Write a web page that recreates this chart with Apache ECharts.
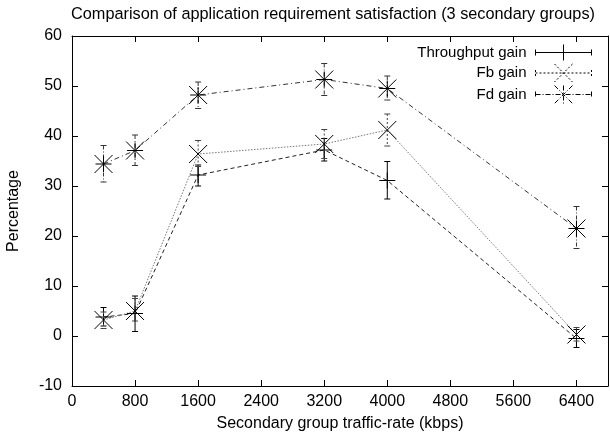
<!DOCTYPE html>
<html>
<head>
    <meta charset="utf-8" />
    <title></title>
    <script type="text/javascript" src="https://cdn.jsdelivr.net/npm/echarts@6/dist/echarts.min.js"></script>
    <style>
        html, body { margin: 0; padding: 0; background: #fff; }
        #con1 { width: 610px; height: 439px; }
    </style>
</head>
<body>
    <div id="con1"></div>
    <script type="text/javascript">
        // traffic rate (kbps)
        var rates = [400, 800, 1600, 3200, 4000, 6400];
        var xTicks = [0, 800, 1600, 2400, 3200, 4000, 4800, 5600, 6400];
        var yTicks = [-10, 0, 10, 20, 30, 40, 50, 60];

        var thrMean = [3.8, 4.5, 32.2, 37.2, 31.1, -0.5];
        var thrLow = [2.0, 0.9, 30.0, 35.0, 27.4, -2.3];
        var thrHigh = [5.7, 8.0, 34.2, 39.5, 34.9, 1.3];

        var fbMean = [3.2, 5.0, 36.4, 38.4, 41.2, 0.3];
        var fbLow = [1.5, 3.0, 33.9, 35.5, 38.0, -1.0];
        var fbHigh = [4.8, 7.5, 39.1, 41.3, 44.4, 1.7];

        var fdMean = [34.4, 37.1, 48.2, 51.3, 49.5, 21.5];
        var fdLow = [30.8, 34.1, 45.5, 48.1, 47.2, 17.5];
        var fdHigh = [38.1, 40.2, 50.8, 54.5, 52.0, 25.9];

        var FONT = 'Liberation Sans, Arial, Helvetica, sans-serif';

        function pairs(m) {
            var arr = [];
            for (var i = 0; i < rates.length; i++) arr.push([rates[i], m[i]]);
            return arr;
        }
        function triples(m, lo, hi) {
            var arr = [];
            for (var i = 0; i < rates.length; i++) arr.push([rates[i], m[i], lo[i], hi[i]]);
            return arr;
        }

        // error bar + marker drawn per point
        function makeRender(marker, barColor, barDash) {
            return function (params, api) {
                var c = api.coord([api.value(0), api.value(1)]);
                var lo = api.coord([api.value(0), api.value(2)]);
                var hi = api.coord([api.value(0), api.value(3)]);
                var cap = 3, r = 8;
                var bar = { stroke: barColor, lineWidth: 1, lineDash: barDash };
                var mk = { stroke: '#000', lineWidth: 1 };
                var ch = [
                    { type: 'line', shape: { x1: c[0], y1: hi[1], x2: c[0], y2: lo[1] }, style: bar },
                    { type: 'line', shape: { x1: c[0] - cap, y1: hi[1], x2: c[0] + cap, y2: hi[1] }, style: { stroke: barColor, lineWidth: 1 } },
                    { type: 'line', shape: { x1: c[0] - cap, y1: lo[1], x2: c[0] + cap, y2: lo[1] }, style: { stroke: barColor, lineWidth: 1 } }
                ];
                if (marker === 'plus' || marker === 'star') {
                    ch.push({ type: 'line', shape: { x1: c[0] - r, y1: c[1], x2: c[0] + r, y2: c[1] }, style: mk });
                    ch.push({ type: 'line', shape: { x1: c[0], y1: c[1] - r, x2: c[0], y2: c[1] + r }, style: mk });
                }
                if (marker === 'cross' || marker === 'star') {
                    var d = r + 1;
                    ch.push({ type: 'line', shape: { x1: c[0] - d, y1: c[1] - d, x2: c[0] + d, y2: c[1] + d }, style: mk });
                    ch.push({ type: 'line', shape: { x1: c[0] - d, y1: c[1] + d, x2: c[0] + d, y2: c[1] - d }, style: mk });
                }
                return { type: 'group', children: ch };
            };
        }

        var iconThr = 'path://M0,9L56,9M0,6L0,12M56,6L56,12M28,1L28,17M20,9L36,9';
        var iconFb = 'path://M0,9L56,9M0,6L0,12M56,6L56,12M19,0L37,18M37,0L19,18';
        var iconFd = 'path://M0,9L56,9M0,6L0,12M56,6L56,12M19,0L37,18M37,0L19,18M28,0L28,18';

        var axisCommon = {
            type: 'value',
            axisLine: { show: true, onZero: false, lineStyle: { color: '#000', width: 1 } },
            axisTick: { show: true, inside: true, length: 6, lineStyle: { color: '#000' } },
            splitLine: { show: false }
        };

        var myChart1 = echarts.init(document.getElementById('con1'));
        var option1 = {
            backgroundColor: '#fff',
            animation: false,
            textStyle: { fontFamily: FONT },
            title: {
                text: 'Comparison of application requirement satisfaction (3 secondary groups)',
                left: 66,
                top: 2,
                textStyle: { fontSize: 16.3, fontWeight: 'normal', color: '#000', fontFamily: FONT }
            },
            legend: {
                orient: 'vertical',
                right: 11,
                top: 37,
                align: 'right',
                itemWidth: 56,
                itemHeight: 18,
                itemGap: -1.5,
                selectedMode: false,
                textStyle: { fontSize: 15, color: '#000', fontFamily: FONT, width: 124, height: 18, lineHeight: 18, align: 'right', padding: [0, 4, 0, 0] },
                data: [
                    { name: 'Throughput gain', icon: iconThr, itemStyle: { color: 'none', borderColor: '#000', borderWidth: 1 } },
                    { name: 'Fb gain', icon: iconFb, itemStyle: { color: 'none', borderColor: '#000', borderWidth: 1, borderType: [2, 2] } },
                    { name: 'Fd gain', icon: iconFd, itemStyle: { color: 'none', borderColor: '#000', borderWidth: 1, borderType: [5, 2, 1, 2] } }
                ]
            },
            grid: { left: 72, right: 2, top: 36, bottom: 53, outerBoundsMode: 'none' },
            xAxis: [
                Object.assign({}, axisCommon, {
                    min: 0, max: 6800, interval: 800,
                    name: 'Secondary group traffic-rate (kbps)',
                    nameLocation: 'middle',
                    nameGap: 30,
                    nameTextStyle: { fontSize: 16, color: '#000', fontFamily: FONT },
                    axisLabel: {
                        fontSize: 16, color: '#000', margin: 8, fontFamily: FONT,
                        formatter: function (v) { return xTicks.indexOf(v) >= 0 ? String(v) : ''; }
                    }
                }),
                Object.assign({}, axisCommon, {
                    position: 'top', min: 0, max: 6800, interval: 800,
                    axisLabel: { show: false }
                })
            ],
            yAxis: [
                Object.assign({}, axisCommon, {
                    min: -10, max: 60, interval: 10,
                    name: 'Percentage',
                    nameLocation: 'middle',
                    nameGap: 50,
                    nameTextStyle: { fontSize: 16, color: '#000', fontFamily: FONT },
                    axisLabel: {
                        fontSize: 16, color: '#000', margin: 10, fontFamily: FONT,
                        formatter: function (v) { return yTicks.indexOf(v) >= 0 ? String(v) : ''; }
                    }
                }),
                Object.assign({}, axisCommon, {
                    position: 'right', min: -10, max: 60, interval: 10,
                    axisLabel: { show: false }
                })
            ],
            series: [
                {
                    name: 'Throughput gain', type: 'line', data: pairs(thrMean), showSymbol: false, symbol: 'none',
                    itemStyle: { color: '#000' },
                    lineStyle: { color: '#222', width: 1, type: [4, 3] }, z: 2
                },
                {
                    name: 'Fb gain', type: 'line', data: pairs(fbMean), showSymbol: false, symbol: 'none',
                    itemStyle: { color: '#000' },
                    lineStyle: { color: '#777', width: 1, type: [1.5, 1.5] }, z: 2
                },
                {
                    name: 'Fd gain', type: 'line', data: pairs(fdMean), showSymbol: false, symbol: 'none',
                    itemStyle: { color: '#000' },
                    lineStyle: { color: '#333', width: 1, type: [5, 3, 1, 3] }, z: 2
                },
                {
                    name: 'thrErr', type: 'custom', data: triples(thrMean, thrLow, thrHigh),
                    renderItem: makeRender('plus', '#000', null), z: 3
                },
                {
                    name: 'fbErr', type: 'custom', data: triples(fbMean, fbLow, fbHigh),
                    renderItem: makeRender('cross', '#444', [2, 2]), z: 3
                },
                {
                    name: 'fdErr', type: 'custom', data: triples(fdMean, fdLow, fdHigh),
                    renderItem: makeRender('star', '#333', [4, 2, 1, 2]), z: 3
                }
            ]
        };
        option1 && myChart1.setOption(option1);
    </script>
</body>
</html>
